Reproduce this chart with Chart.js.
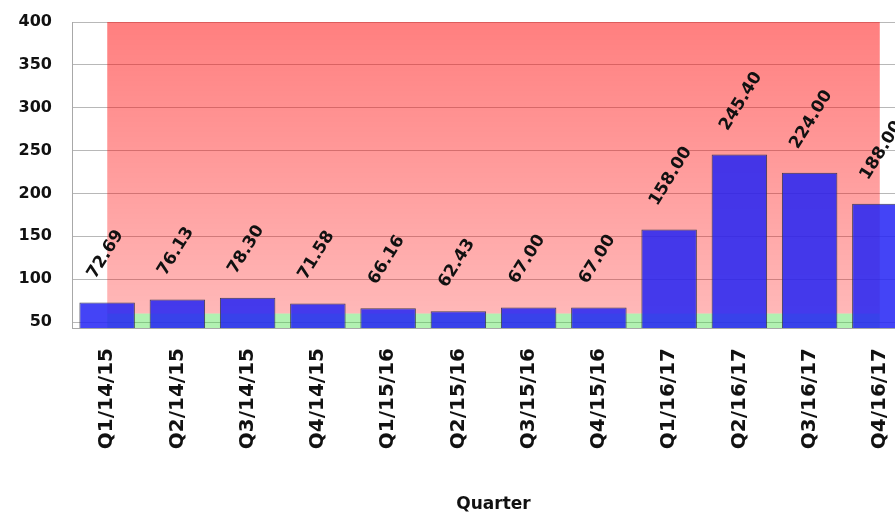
<!DOCTYPE html>
<html>
<head>
<meta charset="utf-8">
<script src="https://cdn.jsdelivr.net/npm/chart.js@4.4.0/dist/chart.umd.min.js"></script>
<style>
  html, body { margin: 0; padding: 0; background: #fff; overflow: hidden; }
  #wrap { width: 895px; height: 516px; overflow: hidden; }
</style>
</head>
<body>
<div id="wrap"><canvas id="quarterChart" width="924" height="516"></canvas></div>
<script>
const quarters = ["Q1/14/15", "Q2/14/15", "Q3/14/15", "Q4/14/15",
                  "Q1/15/16", "Q2/15/16", "Q3/15/16", "Q4/15/16",
                  "Q1/16/17", "Q2/16/17", "Q3/16/17", "Q4/16/17"];
const amounts = [72.69, 76.13, 78.30, 71.58, 66.16, 62.43, 67.00, 67.00, 158.00, 245.40, 224.00, 188.00];
const yTicks = [50, 100, 150, 200, 250, 300, 350, 400];

// target bands: green up to 60, red from 60 up to 400
const greenBand = [60, 60, 60, 60, 60, 60, 60, 60, 60, 60, 60, 60];
const redBand = [400, 400, 400, 400, 400, 400, 400, 400, 400, 400, 400, 400];

const boldFont = (size) => ({ family: "DejaVu Sans", size: size, weight: "bold" });

function redFill(context) {
    const chart = context.chart;
    const area = chart.chartArea;
    if (!area) return "rgba(255,0,0,0.4)";
    const y = chart.scales.y;
    const g = chart.ctx.createLinearGradient(0, y.getPixelForValue(400), 0, y.getPixelForValue(60));
    g.addColorStop(0, "rgba(255,0,0,0.5)");
    g.addColorStop(1, "rgba(255,0,0,0.28)");
    return g;
}

// rotated value labels above each bar
const valueLabels = {
    id: "valueLabels",
    afterDatasetsDraw(chart) {
        const meta = chart.getDatasetMeta(0);
        const c = chart.ctx;
        c.save();
        c.font = "bold 17px 'DejaVu Sans'";
        c.fillStyle = "#111";
        c.textAlign = "left";
        c.textBaseline = "alphabetic";
        meta.data.forEach((bar, i) => {
            c.save();
            c.translate(bar.x - 12, bar.y - 23);
            c.rotate(-58 * Math.PI / 180);
            c.fillText(amounts[i].toFixed(2), 0, 0);
            c.restore();
        });
        c.restore();
    }
};

let ctx = document.getElementById("quarterChart").getContext("2d");

let quarterChart = new Chart(ctx, {
    type: "bar",
    data: {
        labels: quarters,
        datasets: [{
            type: "bar",
            label: "Amount",
            data: amounts,
            backgroundColor: "rgba(35,35,245,0.85)",
            borderColor: "rgba(50,50,70,0.9)",
            borderWidth: 1,
            barPercentage: 0.79,
            categoryPercentage: 1,
            order: 0
        }, {
            type: "line",
            label: "Low",
            data: greenBand,
            fill: "start",
            backgroundColor: "rgba(60,220,60,0.4)",
            borderColor: "rgba(0,0,0,0)",
            borderWidth: 0,
            pointRadius: 0,
            order: 2
        }, {
            type: "line",
            label: "High",
            data: redBand,
            fill: "-1",
            backgroundColor: redFill,
            borderColor: "rgba(0,0,0,0)",
            borderWidth: 0,
            pointRadius: 0,
            order: 1
        }]
    },
    options: {
        responsive: false,
        animation: false,
        layout: { padding: { top: 22, right: 3, left: 0, bottom: 0 } },
        plugins: {
            legend: { display: false },
            tooltip: { enabled: false }
        },
        scales: {
            x: {
                offset: true,
                grid: { display: false, drawTicks: false },
                border: { color: "#a8a8a8" },
                ticks: {
                    minRotation: 90,
                    maxRotation: 90,
                    padding: 20,
                    color: "#111",
                    font: boldFont(20)
                },
                title: {
                    display: true,
                    text: "Quarter",
                    color: "#111",
                    font: boldFont(17),
                    padding: { top: 0, bottom: 1 }
                },
                afterFit: (scale) => {
                    scale.height = 188;
                    scale.paddingTop = 0;
                }
            },
            y: {
                min: 43,
                max: 400,
                afterBuildTicks: (scale) => { scale.ticks = yTicks.map(v => ({ value: v })); },
                grid: { color: "rgba(0,0,0,0.28)", drawTicks: false },
                border: { color: "#a8a8a8" },
                ticks: {
                    padding: 20,
                    color: "#111",
                    font: boldFont(16)
                },
                afterFit: (scale) => {
                    scale.width = 72;
                    scale.paddingTop = 0;
                    scale.paddingBottom = 0;
                }
            }
        }
    },
    plugins: [valueLabels]
});
</script>
</body>
</html>
